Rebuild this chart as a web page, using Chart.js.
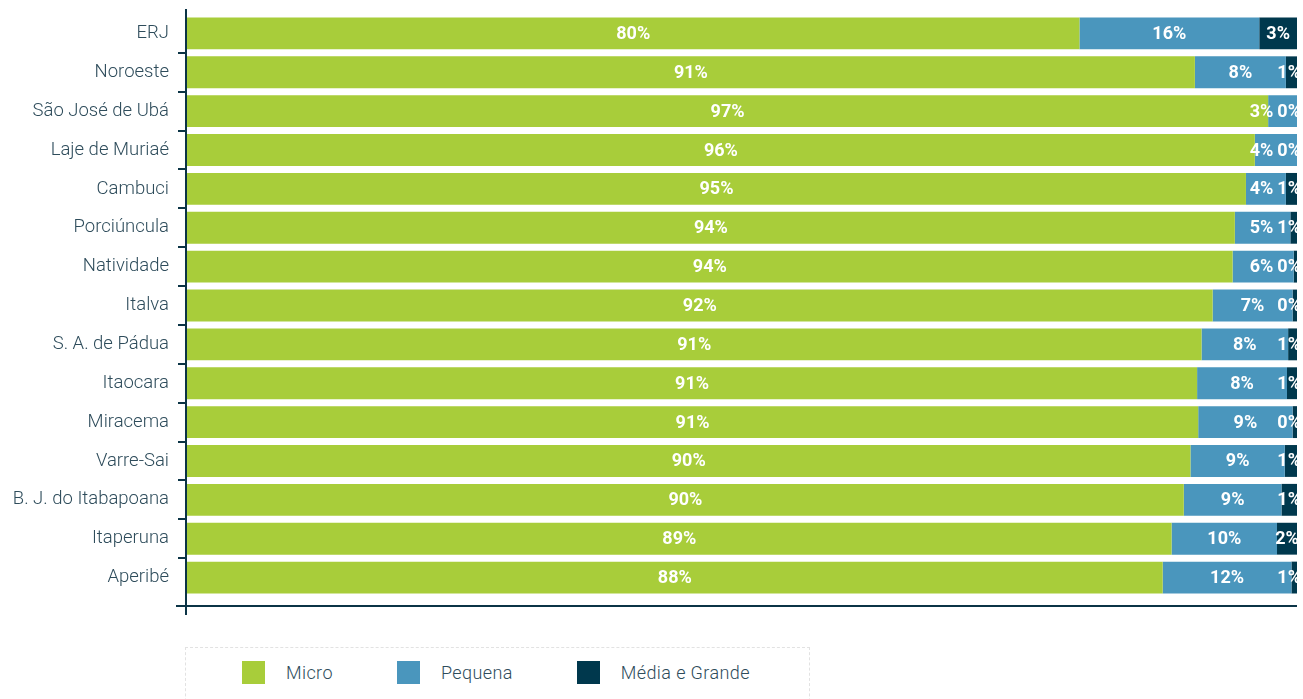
<!DOCTYPE html>
<html lang="pt">
<head>
    <meta charset="UTF-8">
    <title>Empresas por porte</title>
    <style>
        body {
            margin: 0;
            background: #fff;
            font-family: 'Roboto', sans-serif;
        }

        .wrap {
            position: relative;
            width: 1303px;
            height: 699px;
            overflow: hidden;
        }

        .legend {
            position: absolute;
            left: 185px;
            top: 647px;
            width: 625px;
            height: 70px;
            border: 1px dashed #e2e2e2;
            box-sizing: border-box;
            display: flex;
            align-items: flex-start;
            padding: 13px 0 0 56px;
        }

        .legend .item {
            display: flex;
            align-items: center;
            flex-shrink: 0;
            white-space: nowrap;
            margin-right: 64px;
            font-size: 18px;
            font-weight: 300;
            color: #2e4c5b;
            letter-spacing: 0.4px;
        }

        .legend .item:last-child {
            margin-right: 0;
        }

        .legend .box {
            width: 23px;
            height: 23px;
            margin-right: 21px;
        }
    </style>
</head>
<body>
<div class="wrap">
    <canvas id="chart" width="1303" height="640"></canvas>
    <div class="legend" id="legend"></div>
</div>

<script src="https://cdn.jsdelivr.net/npm/chart.js"></script>
<script>
    // Municipalities (plus state and region totals)
    const categories = [
        'ERJ', 'Noroeste', 'São José de Ubá', 'Laje de Muriaé', 'Cambuci',
        'Porciúncula', 'Natividade', 'Italva', 'S. A. de Pádua', 'Itaocara',
        'Miracema', 'Varre-Sai', 'B. J. do Itabapoana', 'Itaperuna', 'Aperibé'
    ];

    // Share of companies by size (%)
    const micro =   [80.4, 90.8, 97.4, 96.2, 95.4, 94.4, 94.2, 92.4, 91.4, 91.0, 91.1, 90.4, 89.8, 88.7, 87.9];
    const pequena = [16.2,  8.2,  2.6,  3.8,  3.6,  5.0,  5.5,  7.2,  7.8,  8.1,  8.5,  8.5,  8.8,  9.5, 11.6];
    const grande =  [ 3.4,  1.0,  0.0,  0.0,  1.0,  0.6,  0.3,  0.4,  0.8,  0.9,  0.4,  1.1,  1.4,  1.8,  0.5];

    const seriesNames = ['Micro', 'Pequena', 'Média e Grande'];
    const seriesColors = ['#a8cd3a', '#4a96bd', '#00384d'];
    const axisColor = '#0b3446';

    // white percentage labels centred in each segment, nudged apart near the right edge
    const segmentLabels = {
        id: 'segmentLabels',
        afterDatasetsDraw(chart) {
            const ctx = chart.ctx;
            const area = chart.chartArea;
            const gap = 4;
            ctx.save();
            ctx.beginPath();
            ctx.rect(area.left, area.top, area.right - area.left, area.bottom - area.top);
            ctx.clip();
            ctx.font = 'bold 18px Roboto';
            ctx.fillStyle = '#ffffff';
            ctx.textAlign = 'center';
            ctx.textBaseline = 'middle';

            categories.forEach((_, i) => {
                const row = chart.data.datasets.map((ds, d) => {
                    const bar = chart.getDatasetMeta(d).data[i];
                    const p = bar.getProps(['x', 'base', 'y'], true);
                    const text = Math.round(ds.data[i]) + '%';
                    return { text, cx: (p.x + p.base) / 2, y: p.y, w: ctx.measureText(text).width };
                });
                const last = row[row.length - 1];
                if (last.cx + last.w / 2 > area.right + 4) {
                    last.cx = area.right + 4 - last.w / 2;
                }
                for (let k = row.length - 2; k >= 0; k--) {
                    const limit = row[k + 1].cx - row[k + 1].w / 2 - gap;
                    if (row[k].cx + row[k].w / 2 > limit) {
                        row[k].cx = limit - row[k].w / 2;
                    }
                }
                row.forEach(l => ctx.fillText(l.text, l.cx, l.y + 1));
            });
            ctx.restore();
        }
    };

    // axis lines running a little past the plot area
    const axisLines = {
        id: 'axisLines',
        afterDraw(chart) {
            const ctx = chart.ctx;
            const area = chart.chartArea;
            ctx.save();
            ctx.strokeStyle = axisColor;
            ctx.lineWidth = 2;
            ctx.beginPath();
            ctx.moveTo(area.left - 1, area.top - 5);
            ctx.lineTo(area.left - 1, area.bottom + 18);
            ctx.moveTo(area.left - 11, area.bottom + 9);
            ctx.lineTo(area.right, area.bottom + 9);
            ctx.stroke();
            ctx.restore();
        }
    };

    const chart = new Chart(document.getElementById('chart'), {
        type: 'bar',
        data: {
            labels: categories,
            datasets: [micro, pequena, grande].map((values, d) => ({
                label: seriesNames[d],
                data: values,
                backgroundColor: seriesColors[d],
                borderWidth: 0,
                barPercentage: 0.82,
                categoryPercentage: 1
            }))
        },
        options: {
            indexAxis: 'y',
            responsive: false,
            animation: false,
            layout: {
                padding: { top: 14, right: 6, bottom: 43, left: 0 }
            },
            plugins: {
                legend: { display: false },
                tooltip: { enabled: false }
            },
            scales: {
                x: {
                    stacked: true,
                    min: 0,
                    max: 100,
                    display: false
                },
                y: {
                    stacked: true,
                    border: { display: false },
                    grid: {
                        offset: true,
                        drawOnChartArea: false,
                        drawTicks: true,
                        tickLength: 9,
                        lineWidth: 2,
                        color: c => (c.type === 'tick' && c.index > 0) ? axisColor : 'rgba(0,0,0,0)'
                    },
                    ticks: {
                        padding: 9,
                        color: '#2e4c5b',
                        font: { family: 'Roboto', size: 18.5, weight: 300 }
                    },
                    afterFit(scale) {
                        scale.width = 187;
                        scale.paddingTop = 0;
                        scale.paddingBottom = 0;
                    }
                }
            }
        },
        plugins: [segmentLabels, axisLines]
    });

    // legend built from the chart's datasets
    const legend = document.getElementById('legend');
    chart.data.datasets.forEach(ds => {
        const item = document.createElement('div');
        item.className = 'item';
        item.innerHTML = '<span class="box" style="background:' + ds.backgroundColor + '"></span>' + ds.label;
        legend.appendChild(item);
    });
</script>
</body>
</html>
